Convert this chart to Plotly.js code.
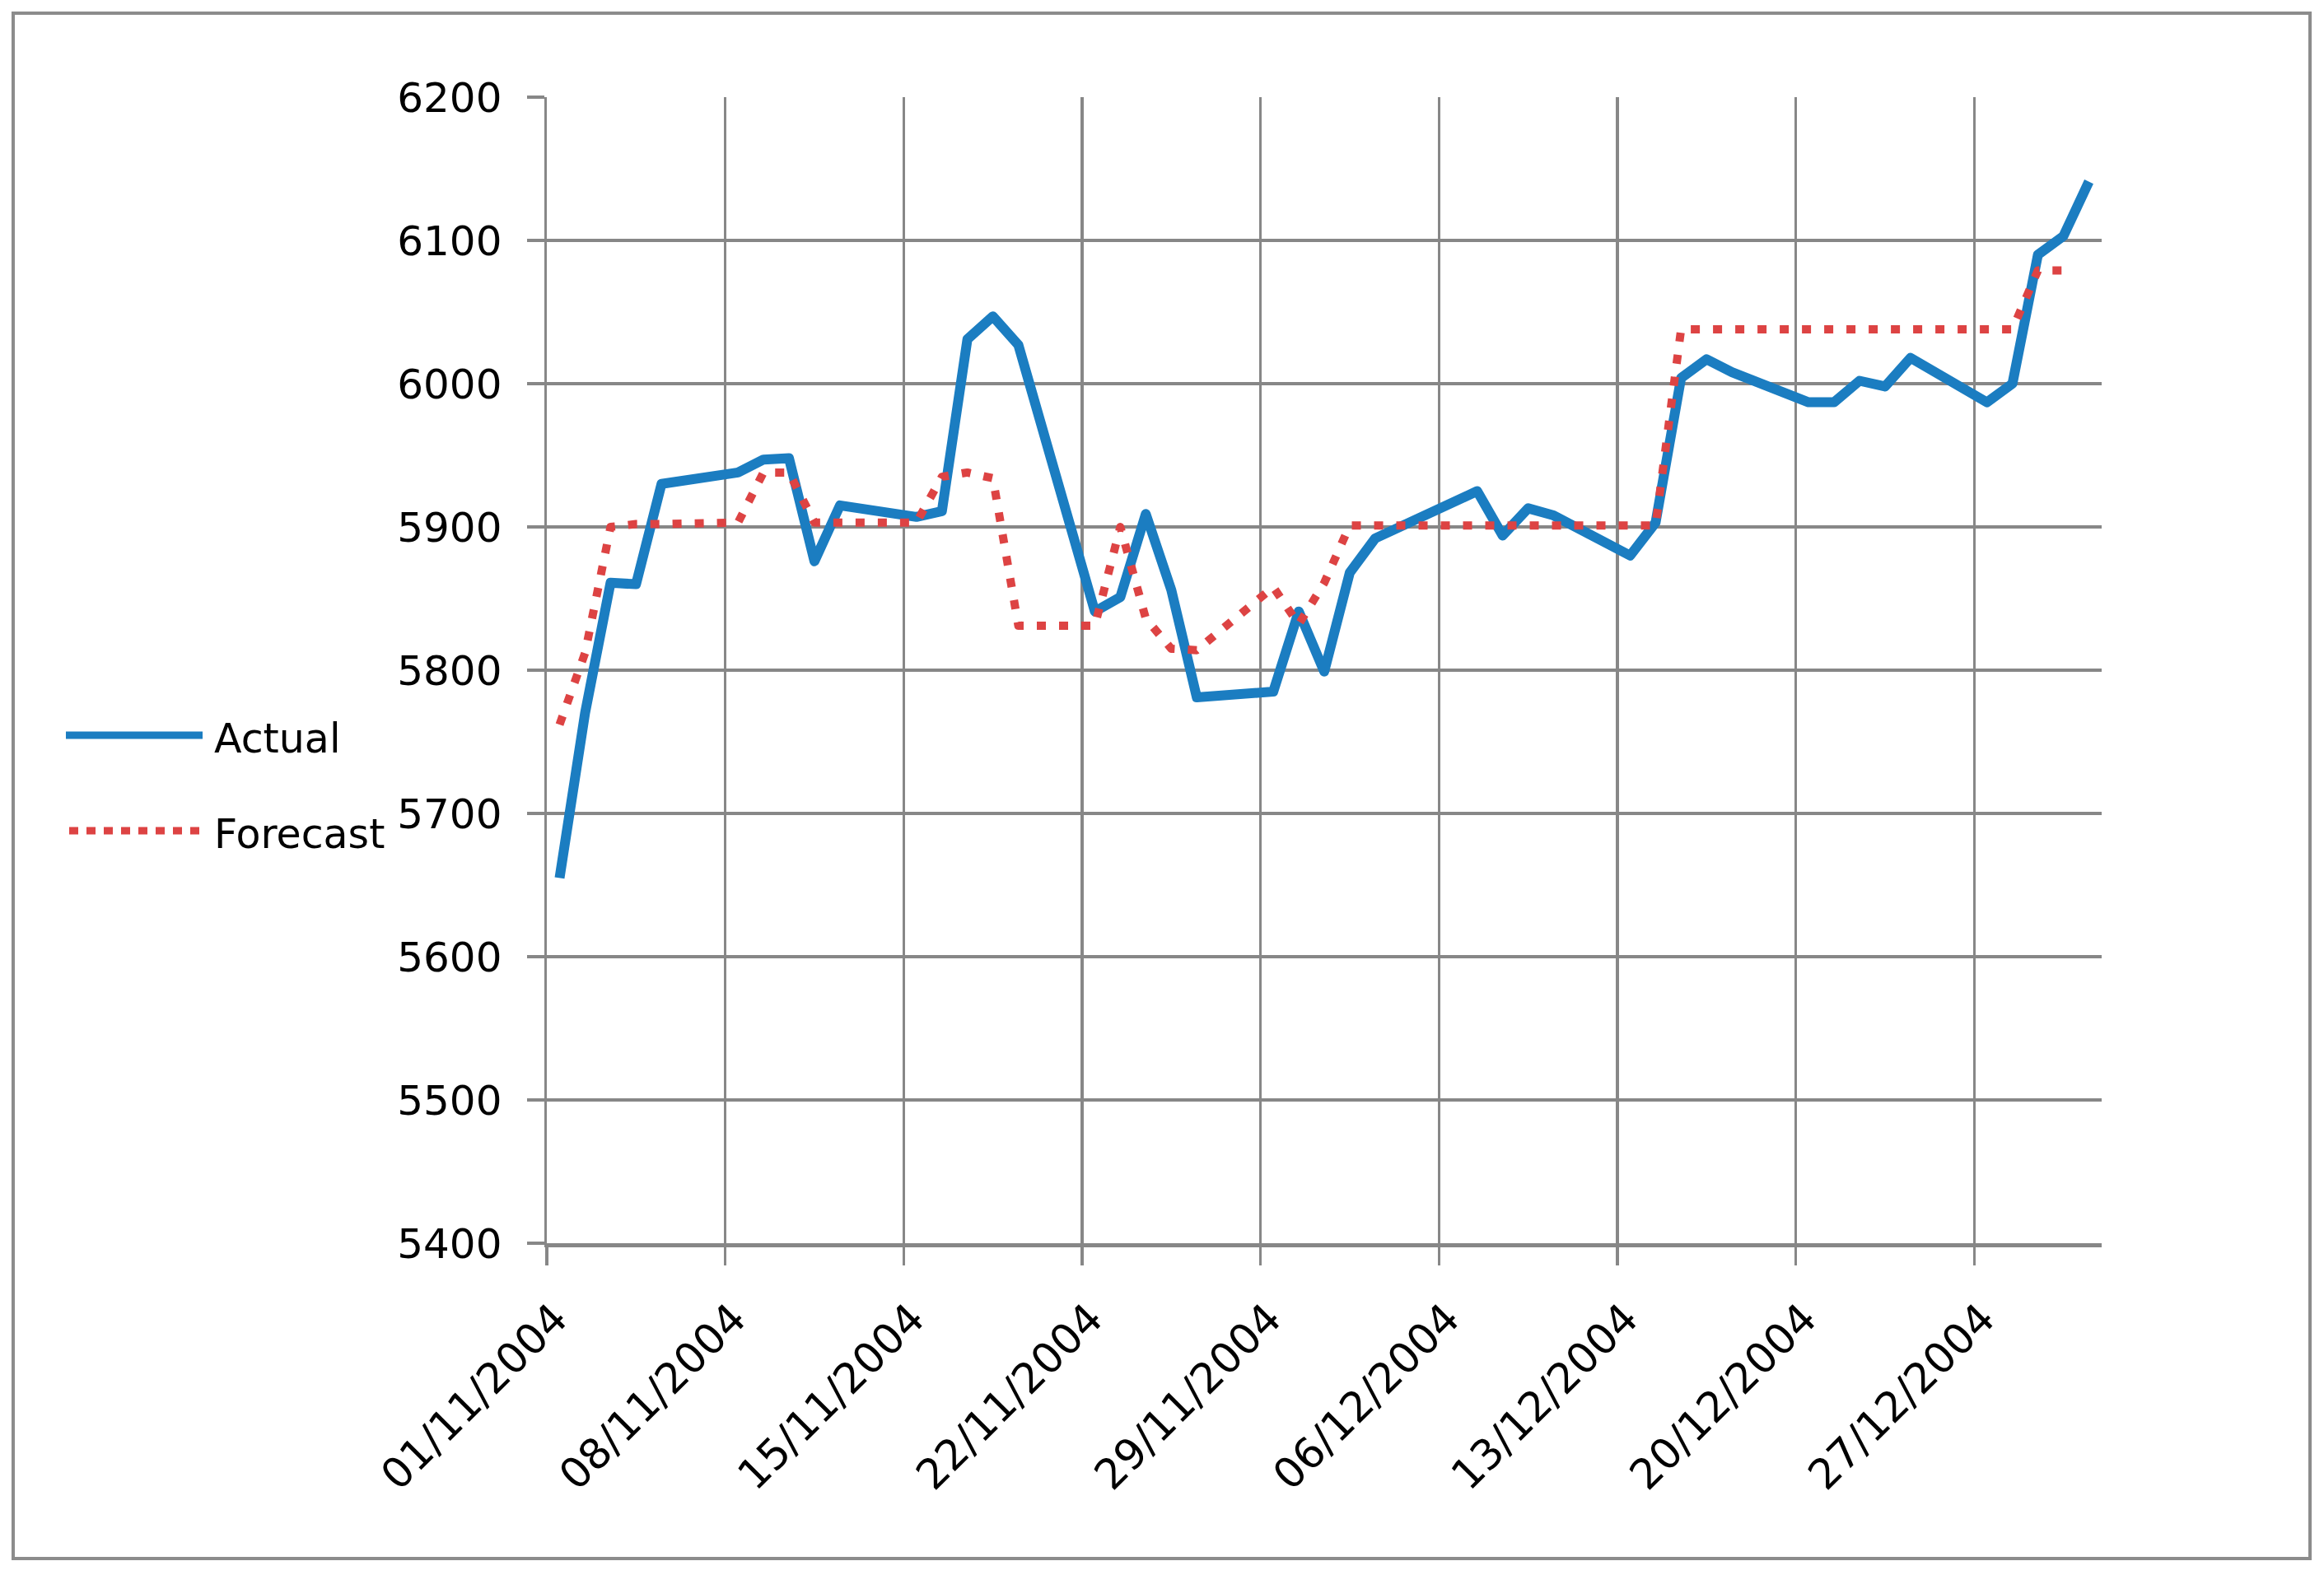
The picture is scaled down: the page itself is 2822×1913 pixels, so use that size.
<!DOCTYPE html>
<html>
<head>
<meta charset="utf-8">
<script src="https://cdn.plot.ly/plotly-3.0.1.min.js"></script>
<style>
  html, body { margin: 0; padding: 0; background: #ffffff; }
  #chart { width: 2822px; height: 1913px; }
  #chart .scatterlayer path.js-line { stroke-linejoin: round; }
</style>
</head>
<body>
<div id="chart"></div>
<script>
// ---- Data ----
const dates = [
  '2004-11-01','2004-11-02','2004-11-03','2004-11-04','2004-11-05',
  '2004-11-08','2004-11-09','2004-11-10','2004-11-11','2004-11-12',
  '2004-11-15','2004-11-16','2004-11-17','2004-11-18','2004-11-19',
  '2004-11-22','2004-11-23','2004-11-24','2004-11-25','2004-11-26',
  '2004-11-29','2004-11-30','2004-12-01','2004-12-02','2004-12-03',
  '2004-12-06','2004-12-07','2004-12-08','2004-12-09','2004-12-10',
  '2004-12-13','2004-12-14','2004-12-15','2004-12-16','2004-12-17',
  '2004-12-20','2004-12-21','2004-12-22','2004-12-23','2004-12-24',
  '2004-12-27','2004-12-28','2004-12-29','2004-12-30','2004-12-31'
];

const actual = [
  5655, 5770, 5861, 5860, 5930,
  5938, 5947, 5948, 5876, 5915,
  5907, 5911, 6031, 6047, 6027,
  5841, 5851, 5909, 5856, 5781,
  5785, 5841, 5799, 5868, 5892,
  5917, 5925, 5894, 5913, 5908,
  5880, 5903, 6004, 6017, 6008,
  5987, 5987, 6002, 5998, 6018,
  5987, 6000, 6090, 6103, 6141
];

const forecast = [
  5762, 5812, 5900, 5902, 5902,
  5903, 5938, 5938, 5903, 5903,
  5903, 5935, 5938, 5934, 5831,
  5831, 5900, 5836, 5815, 5814,
  5858, 5832, 5861, 5901, 5901,
  5901, 5901, 5901, 5901, 5901,
  5901, 5901, 6038, 6038, 6038,
  6038, 6038, 6038, 6038, 6038,
  6038, 6038, 6079, 6079, null
];

const seriesNames = ['Actual', 'Forecast'];
const yTickVals = [5400, 5500, 5600, 5700, 5800, 5900, 6000, 6100, 6200];
const xRange = ['2004-11-01', '2005-01-01'];
const xTick0 = '2004-11-01';

// ---- Styling / layout ----
const W = 2822, H = 1913;
const M = { l: 664, r: 270, t: 118, b: 403 };
const plotW = W - M.l - M.r, plotH = H - M.t - M.b;
const px2x = p => (p - M.l) / plotW;
const px2y = p => (H - M.b - p) / plotH;

const blue = '#1b7dc1';
const red = '#dd4343';
const grid = '#878787';
const font = 'DejaVu Sans, Verdana, sans-serif';
const DAY = 86400000;

const traces = [
  {
    type: 'scatter', mode: 'lines', name: seriesNames[0],
    x: dates, y: actual,
    xperiod: DAY, xperiodalignment: 'middle',
    line: { color: blue, width: 12 },
    showlegend: false
  },
  {
    type: 'scatter', mode: 'lines', name: seriesNames[1],
    x: dates, y: forecast,
    xperiod: DAY, xperiodalignment: 'middle',
    connectgaps: false,
    line: { color: red, width: 10, dash: '11px,16px' },
    showlegend: false
  }
];

const legendLineY = [893, 1009];
const layout = {
  width: W, height: H,
  margin: { l: M.l, r: M.r, t: M.t, b: M.b, autoexpand: false },
  paper_bgcolor: '#ffffff',
  plot_bgcolor: '#ffffff',
  showlegend: false,
  font: { family: font, color: '#000000', size: 50 },
  xaxis: {
    type: 'date',
    range: xRange,
    tick0: xTick0,
    dtick: 7 * DAY,
    tickformat: '%d/%m/%Y',
    tickangle: -45,
    tickfont: { family: font, size: 51, color: '#000000' },
    ticklabelstandoff: 14,
    ticklabelshift: 10,
    showgrid: true, gridcolor: grid, gridwidth: 3.5,
    showline: true, linecolor: grid, linewidth: 5,
    ticks: 'outside', ticklen: 22, tickwidth: 3.5, tickcolor: grid,
    zeroline: false, fixedrange: true
  },
  yaxis: {
    range: [yTickVals[0], yTickVals[yTickVals.length - 1]],
    tickmode: 'array', tickvals: yTickVals,
    ticktext: yTickVals.map(String),
    tickfont: { family: font, size: 50, color: '#000000' },
    showgrid: true, gridcolor: grid, gridwidth: 3.5,
    showline: true, linecolor: grid, linewidth: 3.5,
    ticks: 'outside', ticklen: 21, tickwidth: 3.5, tickcolor: grid,
    ticklabelstandoff: 20,
    zeroline: false, fixedrange: true
  },
  shapes: [
    // outer chart border
    { type: 'rect', xref: 'paper', yref: 'paper',
      x0: px2x(16), x1: px2x(2805), y0: px2y(16), y1: px2y(1893),
      line: { color: '#8c8c8c', width: 4 }, fillcolor: 'rgba(0,0,0,0)', layer: 'below' },
    // legend samples
    { type: 'line', xref: 'paper', yref: 'paper',
      x0: px2x(80), x1: px2x(246), y0: px2y(legendLineY[0]), y1: px2y(legendLineY[0]),
      line: { color: blue, width: 9 } },
    { type: 'line', xref: 'paper', yref: 'paper',
      x0: px2x(84), x1: px2x(246), y0: px2y(legendLineY[1]), y1: px2y(legendLineY[1]),
      line: { color: red, width: 9, dash: '11px,10px' } }
  ],
  annotations: seriesNames.map((n, i) => ({
    text: n, xref: 'paper', yref: 'paper', showarrow: false,
    x: px2x(258), y: px2y(legendLineY[i] + 4),
    xanchor: 'left', yanchor: 'middle',
    font: { family: font, size: 49, color: '#000000' }
  }))
};

Plotly.newPlot('chart', traces, layout, { staticPlot: true, displayModeBar: false });
</script>
</body>
</html>
